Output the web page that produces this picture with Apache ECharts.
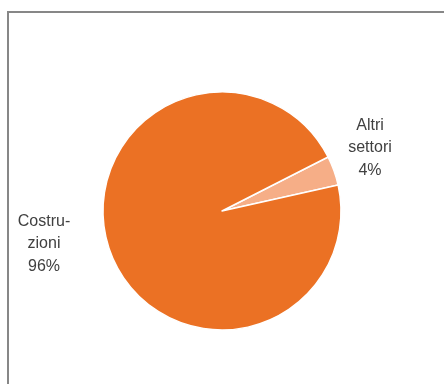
<!DOCTYPE html>
<html>
<head>
<meta charset="utf-8">
<script src="https://cdn.jsdelivr.net/npm/echarts@6/dist/echarts.min.js"></script>
<style>html,body{margin:0;padding:0;background:#fff}#c{width:444px;height:384px}</style>
</head>
<body>
<div id="c"></div>
<script>
const categories = ['Altri\nsettori', 'Costru-\nzioni'];
const values = [4, 96];
const colors = ['#F6AE87', '#EB7124'];

const chart = echarts.init(document.getElementById('c'), null, {renderer: 'canvas'});
chart.setOption({
  animation: false,
  backgroundColor: '#fff',
  graphic: [{
    type: 'rect',
    shape: {x: 8, y: 12, width: 460, height: 400},
    style: {fill: 'none', stroke: '#878787', lineWidth: 2},
    silent: true
  }],
  series: [{
    type: 'pie',
    center: [222, 211],
    radius: 119,
    startAngle: 27,
    clockwise: true,
    data: categories.map((c, i) => ({name: c, value: values[i], itemStyle: {color: colors[i]}})),
    itemStyle: {borderColor: '#fff', borderWidth: 1.5},
    label: {
      show: true,
      formatter: '{b}\n{d}%',
      fontFamily: 'Liberation Sans',
      fontSize: 16,
      lineHeight: 22.5,
      color: '#404040',
      align: 'center',
      overflow: 'none',
      width: 80
    },
    labelLine: {show: false},
    labelLayout: function (p) {
      if (p.dataIndex === 0) return {x: 370, y: 148, align: 'center', verticalAlign: 'middle'};
      return {x: 44, y: 244, align: 'center', verticalAlign: 'middle'};
    }
  }]
});
</script>
</body>
</html>
